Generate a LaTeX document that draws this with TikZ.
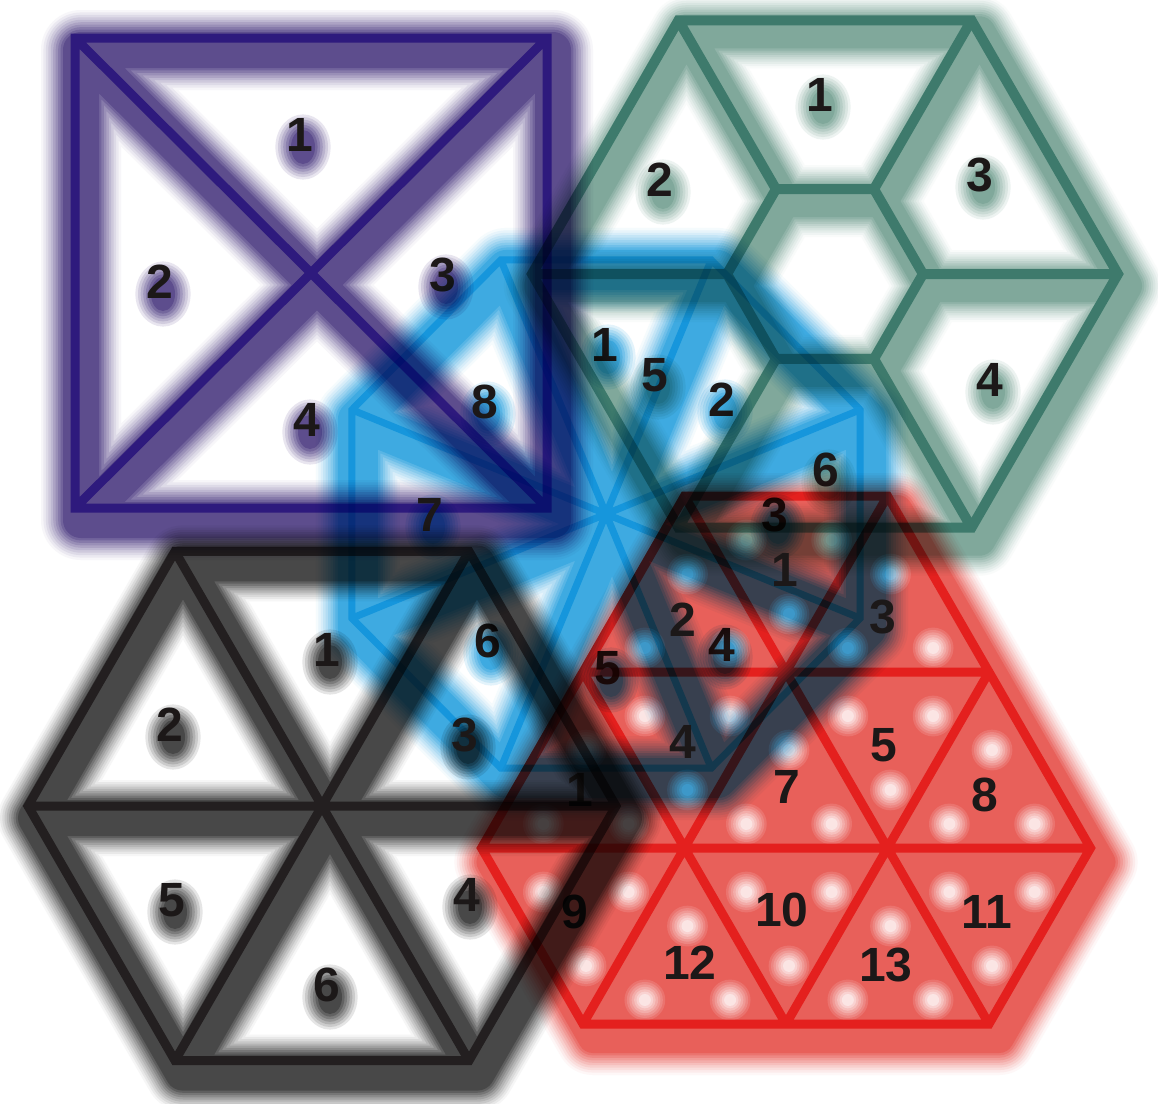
\documentclass[tikz,border=0pt]{standalone}
\usepackage{fontspec}
\setmainfont{Liberation Sans}
\usetikzlibrary{calc}
\definecolor{purpleline}{RGB}{46,26,125}
\definecolor{purpleglow}{RGB}{93,77,141}
\definecolor{greenline}{RGB}{62,122,108}
\definecolor{greenglow}{RGB}{128,168,155}
\definecolor{blackline}{RGB}{35,31,32}
\definecolor{blackglow}{RGB}{72,72,72}
\definecolor{blueline}{RGB}{22,150,220}
\definecolor{blueglow}{RGB}{62,170,225}
\definecolor{redline}{RGB}{228,32,30}
\definecolor{redglow}{RGB}{232,96,90}
\definecolor{labelc}{RGB}{28,24,24}
% glow: #1 colour, #2 core width px, #3 blur px, #4 dx, #5 dy, #6 path
\newcommand\glowstroke[6]{%
  \begin{scope}[shift={(#4,#5)}]
    \foreach \k in {1,...,10}{%
      \pgfmathsetmacro\ww{(#2+2*#3*(10-\k)/9)*0.5}%
      \pgfmathsetmacro\pp{100*(\k/10)^1.3}%
      \draw[line width=\ww pt, draw=#1!\pp!white, line join=round, line cap=round] #6;
    }
  \end{scope}}
\newenvironment{mlayer}{\begin{scope}[blend mode=multiply]\begin{scope}[transparency group]\begin{scope}[blend mode=normal]}{\end{scope}\end{scope}\end{scope}}
% label shadows: #1 colour, #2 list x/y
\newcommand\lblobs[2]{%
  \begin{mlayer}
    \foreach \k in {1,...,7}{%
      \pgfmathsetmacro\rx{12+(7-\k)*2.6}%
      \pgfmathsetmacro\ry{17+(7-\k)*2.6}%
      \pgfmathsetmacro\pp{\k*14.28}%
      \foreach \bx/\by in {#2}{%
        \fill[#1!\pp!white] (\bx+3,\by+12) ellipse[x radius=\rx, y radius=\ry];
      }
    }
  \end{mlayer}}
\tikzset{lab/.style={font=\bfseries\fontsize{24}{24}\selectfont, text=labelc, inner sep=0pt}}
\def\purplepath{(75,38) rectangle (547,508) (75,38) -- (547,508) (547,38) -- (75,508)}
\def\bluepath{(860.1,618.2) -- (711.2,768.1) -- (500.8,768.1) -- (351.9,618.2) -- (351.9,409.8) -- (500.8,259.9) -- (711.2,259.9) -- (860.1,409.8) -- cycle
  (860.1,618.2) -- (351.9,409.8) (711.2,768.1) -- (500.8,259.9) (500.8,768.1) -- (711.2,259.9) (351.9,618.2) -- (860.1,409.8)}
\def\greenpath{(1118,274) -- (971.5,527.7) -- (678.5,527.7) -- (532,274) -- (678.5,20.3) -- (971.5,20.3) -- cycle
  (923,274) -- (874,358.9) -- (776,358.9) -- (727,274) -- (776,189.1) -- (874,189.1) -- cycle
  (1118,274) -- (923,274) (971.5,527.7) -- (874,358.9) (678.5,527.7) -- (776,358.9)
  (532,274) -- (727,274) (678.5,20.3) -- (776,189.1) (971.5,20.3) -- (874,189.1)}
\def\blackpath{(616,806) -- (469,1060.6) -- (175,1060.6) -- (28,806) -- (175,551.4) -- (469,551.4) -- cycle
  (616,806) -- (28,806) (469,1060.6) -- (175,551.4) (175,1060.6) -- (469,551.4)}
\def\redoutline{(684.5,496) -- (887.5,496) -- (1090.5,848) -- (989,1024) -- (583,1024) -- (481.5,848) -- cycle}
\def\redinner{(583,672) -- (989,672) (481.5,848) -- (1090.5,848)
  (684.5,496) -- (989,1024) (583,672) -- (786,1024)
  (887.5,496) -- (583,1024) (989,672) -- (786,1024)}
\begin{document}
\begin{tikzpicture}[x=0.5pt,y=-0.5pt]
\useasboundingbox[fill=white] (0,0) rectangle (1158,1104);

% ---------------- purple square
\begin{mlayer}
  \glowstroke{purpleglow}{36}{22}{6}{12}{\purplepath}
  \draw[line width=4.5pt, purpleline, line join=miter] \purplepath;
\end{mlayer}
\lblobs{purpleglow}{300/135,160/282,443/275,307/420}
\node[lab] (p1) at (300,135) {1};
\node[lab] (p2) at (160,282) {2};
\node[lab] (p3) at (443,275) {3};
\node[lab] (p4) at (307,420) {4};

% ---------------- blue octagon
\begin{mlayer}
  \glowstroke{blueglow}{40}{22}{6}{10}{\bluepath}
  \draw[line width=3.5pt, blueline, line join=miter] \bluepath;
\end{mlayer}
\lblobs{blueglow}{605/345,722/400,775/515,722/645,608/668,488/641,430/515,485/402}
\node[lab] (b1) at (605,345) {1};
\node[lab] (b2) at (722,400) {2};
\node[lab] (b3) at (775,515) {3};
\node[lab] (b4) at (722,645) {4};
\node[lab] (b5) at (608,668) {5};
\node[lab] (b6) at (488,641) {6};
\node[lab] (b7) at (430,515) {7};
\node[lab] (b8) at (485,402) {8};

% ---------------- green hexagon
\begin{mlayer}
  \glowstroke{greenglow}{32}{20}{8}{12}{\greenpath}
  \draw[line width=5pt, greenline, line join=miter] \greenpath;
\end{mlayer}
\lblobs{greenglow}{820/95,660/180,980/175,990/380,655/375,826/470}
\node[lab] (g1) at (820,95) {1};
\node[lab] (g2) at (660,180) {2};
\node[lab] (g3) at (980,175) {3};
\node[lab] (g4) at (990,380) {4};
\node[lab] (g5) at (655,375) {5};
\node[lab] (g6) at (826,470) {6};

% ---------------- red triangles
\begin{mlayer}
  \glowstroke{redglow}{30}{22}{10}{14}{\redoutline}
  \fill[redglow] \redoutline;
  \foreach \ax/\ay/\bx/\by/\cx/\cy in {
    583/672/786/672/684.5/496, 684.5/496/887.5/496/786/672, 786/672/989/672/887.5/496,
    481.5/848/684.5/848/583/672, 583/672/786/672/684.5/848, 684.5/848/887.5/848/786/672,
    786/672/989/672/887.5/848, 887.5/848/1090.5/848/989/672,
    481.5/848/684.5/848/583/1024, 583/1024/786/1024/684.5/848, 684.5/848/887.5/848/786/1024,
    786/1024/989/1024/887.5/848, 887.5/848/1090.5/848/989/1024}{%
    \path (\ax,\ay) coordinate (ta) (\bx,\by) coordinate (tb) (\cx,\cy) coordinate (tq);
    \coordinate (tm) at (barycentric cs:ta=1,tb=1,tq=1);
    \foreach \v in {ta,tb,tq}{%
      \foreach \k in {1,...,7}{%
        \pgfmathsetmacro\rr{6+(7-\k)*2.4}%
        \pgfmathsetmacro\pp{\k*12}%
        \fill[white!\pp!redglow] ($(tm)!0.42!(\v)+(3,10)$) circle[radius=\rr];
      }
    }
  }
  \draw[line width=4.5pt, redline, line join=miter] \redoutline \redinner;
\end{mlayer}
\node[lab] (r1) at (785,570) {1};
\node[lab] (r2) at (683,620) {2};
\node[lab] (r3) at (883,617) {3};
\node[lab] (r4) at (683,742) {4};
\node[lab] (r5) at (884,745) {5};
\node[lab] (r6) at (580,790) {1};
\node[lab] (r7) at (787,787) {7};
\node[lab] (r8) at (985,795) {8};
\node[lab] (r9) at (575,912) {9};
\node[lab] (r10) at (782,910) {10};
\node[lab] (r11) at (987,912) {11};
\node[lab] (r12) at (690,963) {12};
\node[lab] (r13) at (886,965) {13};

% ---------------- black hexagon
\begin{mlayer}
  \glowstroke{blackglow}{36}{20}{8}{12}{\blackpath}
  \draw[line width=4.5pt, blackline, line join=miter] \blackpath;
\end{mlayer}
\lblobs{blackglow}{327/650,170/725,465/735,467/895,172/900,327/985}
\node[lab] (k1) at (327,650) {1};
\node[lab] (k2) at (170,725) {2};
\node[lab] (k3) at (465,735) {3};
\node[lab] (k4) at (467,895) {4};
\node[lab] (k5) at (172,900) {5};
\node[lab] (k6) at (327,985) {6};
\end{tikzpicture}
\end{document}
